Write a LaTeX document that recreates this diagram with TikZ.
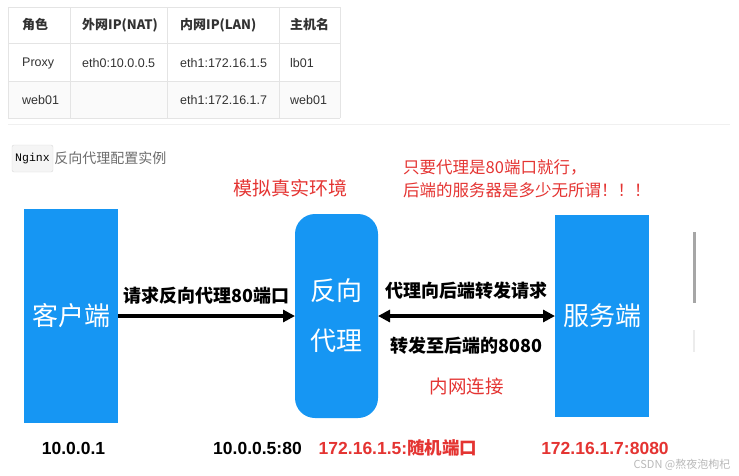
\documentclass[tikz,border=0pt]{standalone}
\usepackage{fontspec}
\setmainfont{Liberation Sans}
\setmonofont{Liberation Mono}
\newfontfamily\cjk{Noto Sans CJK SC}
\usetikzlibrary{arrows.meta,positioning}
\definecolor{boxblue}{RGB}{22,150,243}
\definecolor{redtxt}{RGB}{228,52,50}
\definecolor{gridgray}{RGB}{228,228,228}
\definecolor{celltxt}{RGB}{50,50,50}
\newcommand{\fsz}[1]{\fontsize{#1pt}{#1pt}\selectfont}

\begin{document}
\begin{tikzpicture}[
		x=1pt, y=-1pt,
		hostbox/.style = {fill=boxblue, text=white, font=\cjk\fsz{26},% blue boxes
			inner sep=0pt, outer sep=0pt},
		lbl/.style = {font=\cjk\bfseries\fsz{18}, inner sep=0pt},
		arr/.style = {line width=3.2pt, -{Triangle[length=12pt,width=12pt]}},
		ip/.style = {font=\bfseries\fsz{17.5}, inner sep=0pt},
		hd/.style = {font=\cjk\bfseries\fsz{13}, text=celltxt, anchor=west, inner sep=0pt},
		cell/.style = {font=\fsz{12.5}, text=celltxt, anchor=west, inner sep=0pt},
		]
		\useasboundingbox (0,0) rectangle (739,475);
		% table
		\fill[gray!4] (8,81) rectangle (340,118);
		\foreach \y in {7,43,81,118}
		\draw[gridgray] (8,\y) -- (340,\y);
		\foreach \x in {8,70,167,279,340}
		\draw[gridgray] (\x,7) -- (\x,118);
		\foreach \x/\a/\b/\c in {22/角色/Proxy/web01,82/外网IP(NAT)/eth0:10.0.0.5/,
			180/内网IP(LAN)/eth1:172.16.1.5/eth1:172.16.1.7,290/主机名/lb01/web01}{
			\node[hd] (h\x) at (\x,25) {\a};
			\node[cell] (r\x) at (\x,63) {\b};
			\node[cell] (s\x) at (\x,100) {\c};
		}
		\draw[gray!12] (8,124) -- (730,124);
		% title
		\node[draw=gray!30, fill=gray!8, rounded corners=2pt, font=\ttfamily\fsz{11.5},
		minimum width=41pt, minimum height=27pt, inner sep=0pt] (ngx) at (32.5,158.5) {Nginx};
		\node[font=\cjk\fsz{14}, text=gray!85!black, inner sep=0pt, right=1pt of ngx] (title) {反向代理配置实例};
		\node[font=\cjk\fsz{19}, text=redtxt, inner sep=0pt] (env) at (290,188) {模拟真实环境};
		\node[font={\cjk\fontsize{16.5pt}{23pt}\selectfont}, text=redtxt, align=left,
		anchor=west, inner sep=0pt] (note) at (403,178.5) {只要代理是80端口就行，\\后端的服务器是多少无所谓！！！};
		% hosts
		\node[hostbox, minimum width=94pt, minimum height=214pt] (client) at (71,316) {客户端};
		\node[hostbox, rounded corners=20pt, minimum width=83pt, minimum height=204pt, align=center,
		font={\cjk\fontsize{26pt}{50pt}\selectfont}] (proxy) at (336.5,316) {反向\\代理};
		\node[hostbox, minimum width=94pt, minimum height=202pt] (server) at (602,316) {服务端};
		\draw[arr] (client) -- node[lbl, above=10pt] (req) {请求反向代理80端口} (proxy);
		\draw[arr, {Triangle[length=12pt,width=12pt]}-{Triangle[length=12pt,width=12pt]}] (proxy) --
		node[lbl, above=15pt] (fwd) {代理向后端转发请求}
		node[lbl, below=19pt] (back) {转发至后端的8080} (server);
		\node[font=\cjk\fsz{18.5}, text=redtxt, inner sep=0pt, below=22pt of back] (lan) {内网连接};
		% addresses
		\node[ip] (ipc) at (73.5,448) {10.0.0.1};
		\node[ip] (ipp) at (257.5,448) {10.0.0.5:80};
		\node[ip, text=redtxt] (ipl) at (398,448) {172.16.1.5:{\cjk 随机端口}};
		\node[ip, text=redtxt] (ips) at (605,448) {172.16.1.7:8080};
		\node[font=\cjk\fsz{11}, text=gray!55, inner sep=0pt] (wm) at (682,465) {CSDN @熬夜泡枸杞};
		% scroll bar
		\draw[gray!70, line width=3pt] (694,232) -- (694,303);
		\draw[gray!15, line width=2pt] (694,330) -- (694,352);
	\end{tikzpicture}
\end{document}
